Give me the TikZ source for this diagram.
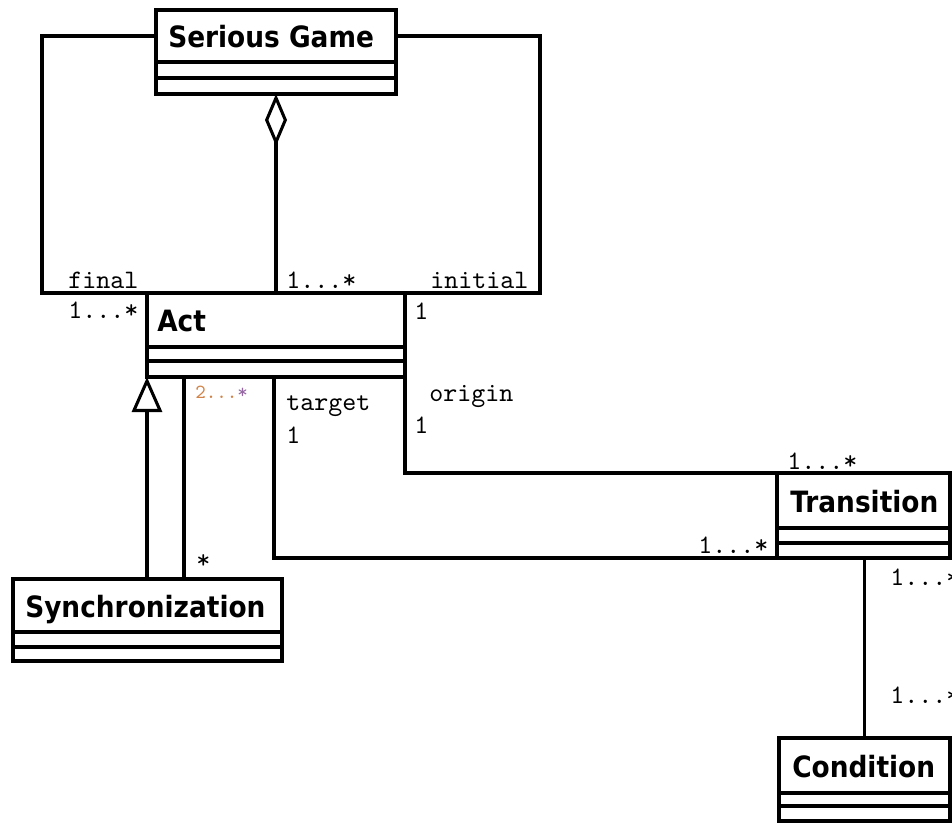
\documentclass[tikz,border=0pt]{standalone}
\usepackage{fontspec}
\usetikzlibrary{arrows.meta,calc}

\newfontfamily\classfont{DejaVu Sans}[FakeStretch=0.9]
\newfontfamily\lblfont{lmmono10-regular.otf}

\definecolor{multorange}{RGB}{210,130,70}
\definecolor{multpurple}{RGB}{150,105,165}

% one drawing unit = one pixel of the page
\def\PX{0.75pt}

% a UML class: name compartment, attribute and operation compartments
% #1 id, #2 x, #3 y, #4 width, #5-#7 compartment heights, #8 text indent, #9 name
\newcommand{\umlclass}[9]{%
  \node[compart,minimum width=#4*\PX,minimum height=#5*\PX] (#1) at (#2,#3) {};
  \node[compart,minimum width=#4*\PX,minimum height=#6*\PX] (#1-a) at (#1.south west) {};
  \node[compart,minimum width=#4*\PX,minimum height=#7*\PX] (#1-o) at (#1-a.south west) {};
  \node[classname] (#1-t) at ($(#1.west)+(#8,1)$) {#9};
}

\begin{document}
\begin{tikzpicture}[x=0.75pt,y=-0.75pt,
  compart/.style={draw,line width=2.3pt,anchor=north west,inner sep=0pt,
    outer sep=0pt,fill=white},
  classname/.style={anchor=west,inner sep=0pt,text height=16pt,text depth=0pt,
    font=\classfont\bfseries\fontsize{22pt}{26pt}\selectfont},
  conn/.style={line width=2.3pt},
  aggr/.style={conn,{Diamond[open,length=39pt,width=16.5pt]}-},
  inherit/.style={conn,-{Triangle[open,length=26.25pt,width=22.5pt]}},
  mult/.style={anchor=base west,inner sep=0pt,
    font=\lblfont\fontsize{20pt}{24pt}\selectfont},
  multsmall/.style={anchor=base west,inner sep=0pt,
    font=\lblfont\fontsize{15pt}{18pt}\selectfont}
]
\path[use as bounding box,fill=white] (0,0) rectangle (952,824);
\clip (0,0) rectangle (952,824);

% classes
\umlclass{sg}{156}{10}{240}{52}{16}{16}{12}{Serious Game}
\umlclass{act}{147}{293}{258}{54}{14}{16}{10}{Act}
\umlclass{sync}{13}{579}{269}{53}{15}{14}{12}{Synchronization}
\umlclass{tr}{777}{473}{173}{55}{15}{15}{13}{Transition}
\umlclass{cond}{779}{738}{171}{55}{13}{15}{13}{Condition}

% Serious Game -- Act
\draw[aggr] (sg-o.south) -- (act.north);
\draw[conn] (sg.west) -- ++(-114,0) |- (act.north west);
\draw[conn] (sg.east) -- ++(144,0) |- (act.north east);

% Synchronization -- Act
\draw[inherit] (sync.north -| act-o.south west) -- (act-o.south west);
\coordinate (syncend) at ($(act-o.south west)+(37,0)$);
\draw[conn] (syncend) -- (syncend |- sync.north);

% Act -- Transition
\coordinate (targetend) at ($(act-o.south west)+(127,0)$);
\draw[conn] (targetend) |- (tr-o.south west);
\draw[conn] (act-o.south east) |- (tr.north west);

% Transition -- Condition
\draw[conn] (tr-o.south -| cond.north) -- (cond.north);

% roles and multiplicities
\node[mult] (m-final) at (68,288) {final};
\node[mult] (m-finaln) at (68,318) {1...*};
\node[mult] (m-acts) at (286,288) {1...*};
\node[mult] (m-initial) at (430,288) {initial};
\node[mult] (m-initialn) at (414,319) {1};
\node[multsmall] (m-syncacts) at (195,398)
  {\textcolor{multorange}{2...}\textcolor{multpurple}{*}};
\node[mult] (m-target) at (286,410) {target};
\node[mult] (m-targetn) at (286,443) {1};
\node[mult] (m-origin) at (429,401) {origin};
\node[mult] (m-originn) at (414,433) {1};
\node[mult] (m-syncn) at (196,568) {*};
\node[mult] (m-trorigin) at (787,469) {1...*};
\node[mult] (m-trtarget) at (698,553) {1...*};
\node[mult] (m-trcond) at (890,585) {1...*};
\node[mult] (m-condtr) at (890,703) {1...*};
\end{tikzpicture}
\end{document}
